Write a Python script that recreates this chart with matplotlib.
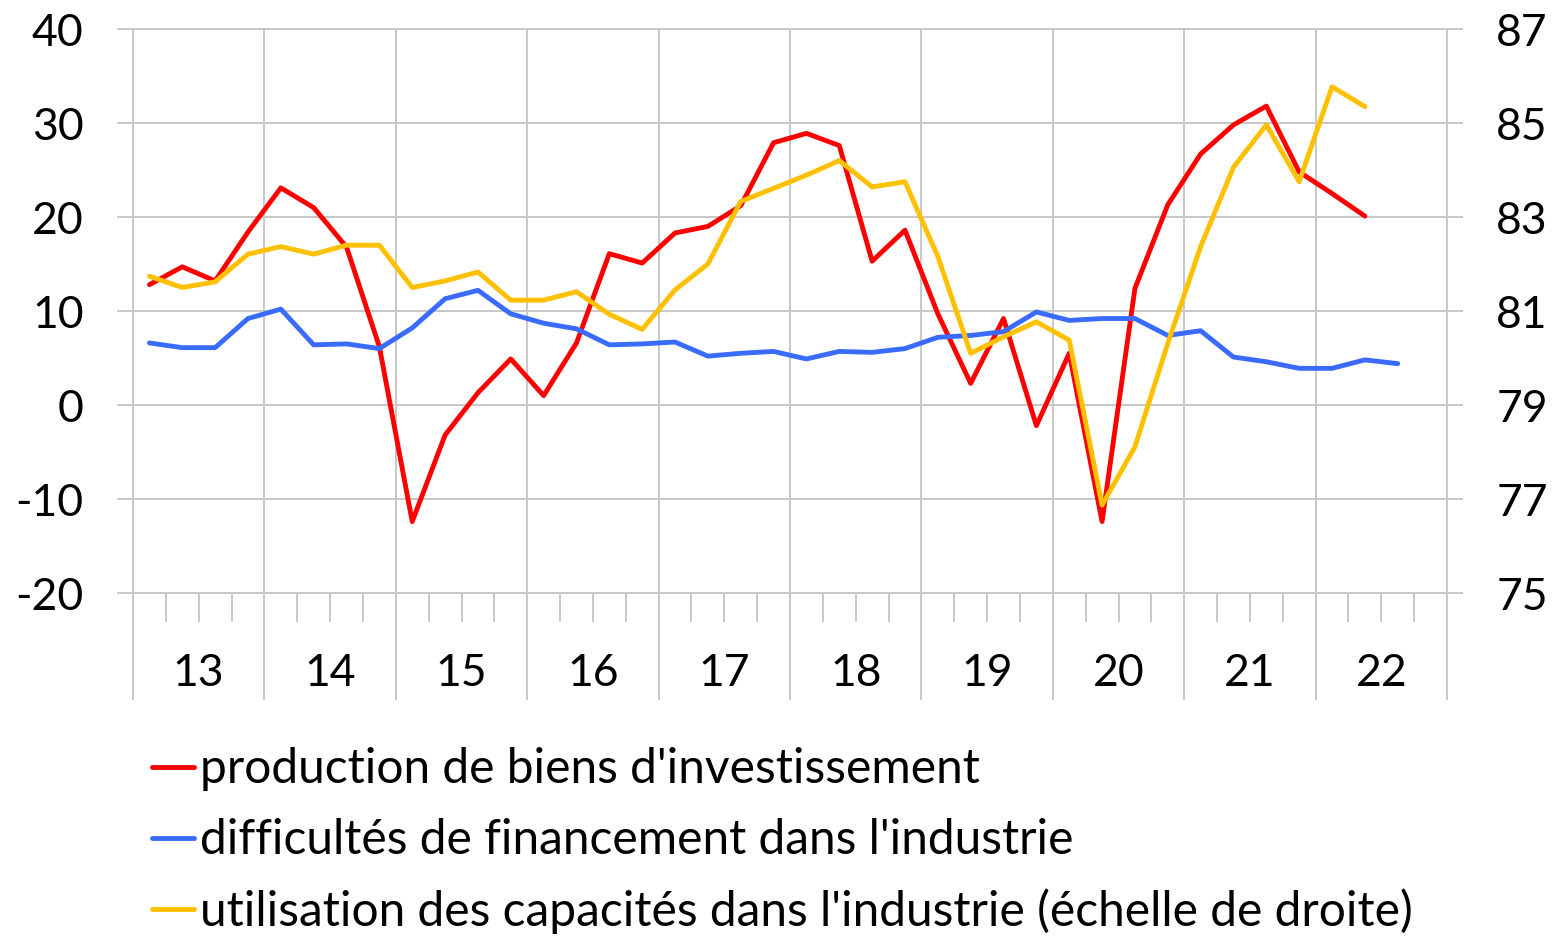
import numpy as np
import matplotlib
matplotlib.use('Agg')
import matplotlib.pyplot as plt
from matplotlib.lines import Line2D

plt.rcParams['font.family'] = ['Lato', 'DejaVu Sans']
plt.rcParams['axes.unicode_minus'] = False

# quarterly data, 2013Q1 onwards
years = ['13', '14', '15', '16', '17', '18', '19', '20', '21', '22']
production = [12.8, 14.7, 13.2, 18.4, 23.1, 21.0, 16.8, 6.2, -12.4, -3.2,
              1.3, 4.9, 1.0, 6.6, 16.1, 15.1, 18.3, 19.0, 21.2, 27.9,
              28.9, 27.6, 15.3, 18.6, 9.7, 2.3, 9.2, -2.2, 5.5, -12.4,
              12.4, 21.3, 26.7, 29.8, 31.8, 24.8, 22.5, 20.1]
financement = [6.6, 6.1, 6.1, 9.2, 10.2, 6.4, 6.5, 6.0, 8.2, 11.3,
               12.2, 9.7, 8.7, 8.1, 6.4, 6.5, 6.7, 5.2, 5.5, 5.7,
               4.9, 5.7, 5.6, 6.0, 7.2, 7.4, 7.8, 9.9, 9.0, 9.2,
               9.2, 7.4, 7.9, 5.1, 4.6, 3.9, 3.9, 4.8, 4.4]
capacites = [81.74, 81.50, 81.62, 82.21, 82.37, 82.21, 82.40, 82.40, 81.50, 81.64,
             81.83, 81.23, 81.23, 81.41, 80.93, 80.61, 81.45, 82.00, 83.33, 83.61,
             83.89, 84.20, 83.64, 83.75, 82.16, 80.10, 80.45, 80.77, 80.38, 76.87,
             78.11, 80.31, 82.37, 84.06, 84.96, 83.75, 85.77, 85.35]

labels = ["production de biens d'investissement",
          "difficultés de financement dans l'industrie",
          "utilisation des capacités dans l'industrie (échelle de droite)"]
colors = ['#FF0000', '#3A6BFF', '#FFC000']

grey = '#C8C8C8'
fs = 32
fs_leg = 34.5
lw = 3.5

fig = plt.figure(figsize=(15.55, 9.36), dpi=100)
ax = fig.add_axes([133 / 1555, 1 - 593 / 936, (1447 - 133) / 1555, (593 - 29) / 936])

n_q = 4 * len(years)
ax.set_xlim(-0.5, n_q - 0.5)
ax.set_ylim(-20, 40)
ax.set_yticks(np.arange(-20, 41, 10))

line_kw = dict(linewidth=lw, solid_capstyle='round', solid_joinstyle='round')
ax.plot(np.arange(len(production)), production, color=colors[0], **line_kw)
ax.plot(np.arange(len(financement)), financement, color=colors[1], **line_kw)

ax2 = ax.twinx()
ax2.set_ylim(75, 87)
ax2.set_yticks(np.arange(75, 88, 2))
ax2.plot(np.arange(len(capacites)), capacites, color=colors[2], **line_kw)

# year separators and quarter ticks
year_edges = np.arange(-0.5, n_q, 4)
quarter_edges = [q for q in np.arange(-0.5, n_q, 1) if q not in year_edges]
ax.set_xticks(year_edges)
ax.set_xticks(quarter_edges, minor=True)
ax.set_xticklabels([])
ax.tick_params(axis='x', which='major', length=77, width=1.4, color=grey, direction='out')
ax.tick_params(axis='x', which='minor', length=21, width=1.4, color=grey, direction='out')
ax.tick_params(axis='y', length=11.5, width=1.4, color=grey, labelsize=fs, pad=24)
ax2.tick_params(axis='y', length=11.5, width=1.4, color=grey, labelsize=fs, pad=24)
ax.grid(True, which='major', color=grey, linewidth=1.4)

for a in (ax, ax2):
    for s in a.spines.values():
        s.set_color(grey)
        s.set_linewidth(1.4)

for k, yr in enumerate(years):
    ax.text(4 * k + 1.5, -0.143, yr, transform=ax.get_xaxis_transform(),
            ha='center', va='center', fontsize=fs)

# legend
for k, (lab, c) in enumerate(zip(labels, colors)):
    y = 1 - (767 + 71 * k) / 936
    fig.add_artist(Line2D([152 / 1555, 194 / 1555], [y, y], color=c,
                          linewidth=lw, solid_capstyle='round'))
    fig.text(200 / 1555, y - 2 / 936, lab, fontsize=fs_leg, va='center', ha='left')

fig.savefig('out.png', dpi=100)
